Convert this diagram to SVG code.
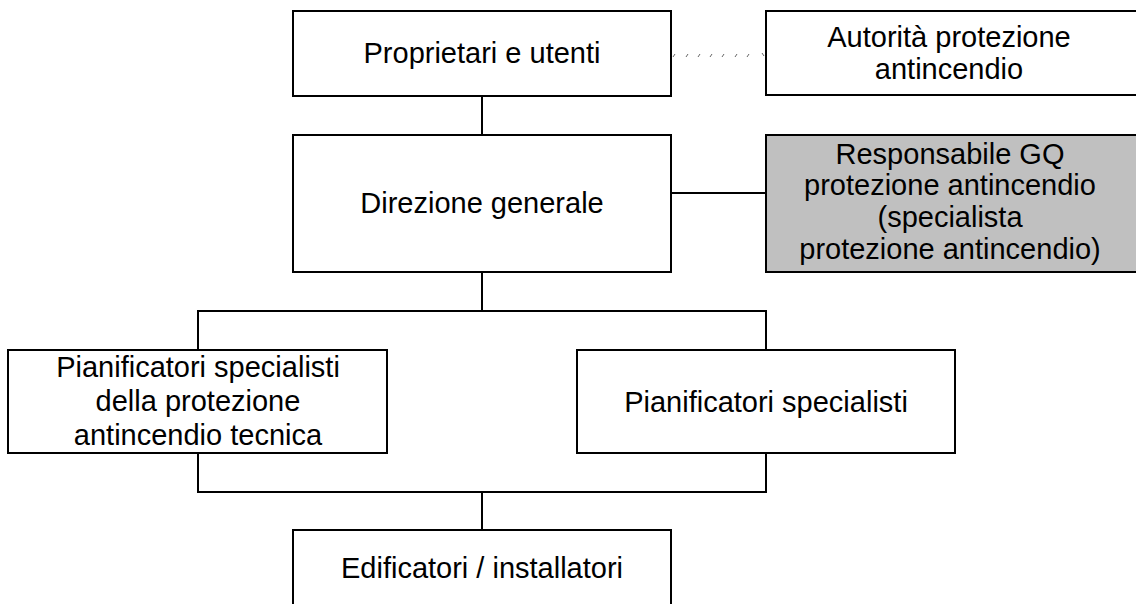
<svg xmlns="http://www.w3.org/2000/svg" width="1136" height="604" viewBox="0 0 1136 604">
<style>
.box{fill:#ffffff;stroke:#000000;stroke-width:2}
.gray{fill:#c0c0c0;stroke:#000000;stroke-width:2}
.lbl{font-family:"Liberation Sans",Arial,sans-serif;font-size:29px;fill:#000000;text-anchor:middle}
.con{fill:none;stroke:#000000;stroke-width:2}
.dot{fill:none;stroke:#666666;stroke-width:1}
</style>
<rect width="1136" height="604" fill="#ffffff"/>
<g id="connectors">
<path class="con" d="M482,96 V135"/>
<path class="con" d="M671,193 H766"/>
<path class="con" d="M482,272 V311 M198,350 V311 H766 V350"/>
<path class="con" d="M198,453 V492 H766 V453 M482,492 V530"/>
<path class="dot" d="M673,57 l2,-3 M686,57 l2,-3 M698,57 l2,-3 M710,57 l2,-3 M722,57 l2,-3 M735,57 l2,-3 M747,57 l2,-3 M762,53 l2,3"/>
</g>
<g id="n-proprietari">
<rect class="box" x="293" y="11" width="378" height="85"/>
<text class="lbl" x="482" y="63">Proprietari e utenti</text>
</g>
<g id="n-autorita">
<rect class="box" x="766" y="11" width="380" height="84"/>
<text class="lbl" x="949" y="47">Autorità protezione</text>
<text class="lbl" x="949" y="79">antincendio</text>
</g>
<g id="n-direzione">
<rect class="box" x="293" y="135" width="378" height="137"/>
<text class="lbl" x="482" y="213">Direzione generale</text>
</g>
<g id="n-responsabile">
<rect class="gray" x="766" y="135" width="380" height="137"/>
<text class="lbl" x="950" y="163.5">Responsabile GQ</text>
<text class="lbl" x="950" y="195.2">protezione antincendio</text>
<text class="lbl" x="950" y="226.9">(specialista</text>
<text class="lbl" x="950" y="258.6">protezione antincendio)</text>
</g>
<g id="n-pianificatori-antincendio">
<rect class="box" x="8" y="350" width="379" height="103"/>
<text class="lbl" x="198" y="377">Pianificatori specialisti</text>
<text class="lbl" x="198" y="411">della protezione</text>
<text class="lbl" x="198" y="445">antincendio tecnica</text>
</g>
<g id="n-pianificatori">
<rect class="box" x="577" y="350" width="378" height="103"/>
<text class="lbl" x="766" y="412">Pianificatori specialisti</text>
</g>
<g id="n-edificatori">
<rect class="box" x="293" y="530" width="378" height="90"/>
<text class="lbl" x="482" y="578">Edificatori / installatori</text>
</g>
</svg>
